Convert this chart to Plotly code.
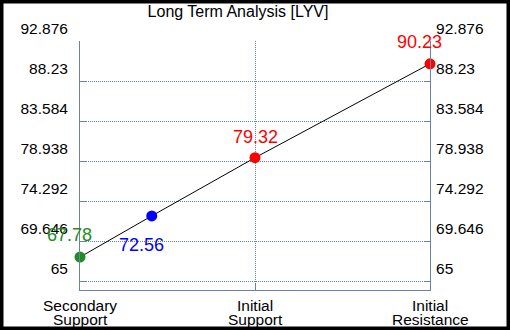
import plotly.graph_objects as go

# ---- data ----
categories = ["Secondary Support", "Initial Support", "Initial Resistance"]
category_x = [0, 1, 2]
point_x = [0, 0.41, 1, 2]
point_y = [67.78, 72.56, 79.32, 90.23]
point_labels = ["67.78", "72.56", "79.32", "90.23"]
point_colors = ["#228B22", "#0000FF", "#FF0000", "#FF0000"]
y_ticks = [65, 69.646, 74.292, 78.938, 83.584, 88.23, 92.876]
y_tick_text = ["65", "69.646", "74.292", "78.938", "83.584", "88.23", "92.876"]
title_text = "Long Term Analysis [LYV]"

# ---- styles ----
axis_col = "#6a82ab"
font_fam = "Liberation Sans, Arial, sans-serif"
label_offsets = [(-11, 22), (-10, -29), (0, 21), (-11, 22)]

W, H = 510, 330
ML, MR, MT, MB = 80, 80, 41, 40
y_range = [63.955, 92.876]

fig = go.Figure()
fig.add_trace(go.Scatter(
    x=point_x, y=point_y, mode="lines+markers",
    line=dict(color="black", width=1),
    marker=dict(color=point_colors, size=11, line=dict(width=0)),
    cliponaxis=False,
    showlegend=False, hoverinfo="skip",
))
# invisible trace for the right axis
fig.add_trace(go.Scatter(x=[point_x[0]], y=[point_y[0]], yaxis="y2",
                         mode="markers", marker=dict(opacity=0),
                         showlegend=False, hoverinfo="skip"))

annotations = []
for xv, yv, t, c, (dx, dy) in zip(point_x, point_y, point_labels, point_colors, label_offsets):
    annotations.append(dict(x=xv, y=yv, xref="x", yref="y", text=t, showarrow=False,
                            xshift=dx, yshift=dy,
                            font=dict(color=c, size=18, family=font_fam)))
for xv, cat in zip(category_x, categories):
    parts = cat.split(" ", 1)
    annotations.append(dict(x=xv, y=0, xref="x", yref="paper", text=parts[0], showarrow=False,
                            yanchor="middle", yshift=-15,
                            font=dict(color="black", size=15.5, family=font_fam)))
    annotations.append(dict(x=xv, y=0, xref="x", yref="paper", text=parts[1], showarrow=False,
                            yanchor="middle", yshift=-29,
                            font=dict(color="black", size=15.5, family=font_fam)))

pw = W - ML - MR
ph = H - MT - MB
border = dict(type="rect", xref="paper", yref="paper",
              x0=-ML / pw, x1=(W - ML) / pw, y0=-MB / ph, y1=(H - MB) / ph,
              line=dict(color="black", width=7), fillcolor="rgba(0,0,0,0)", layer="above")

common_y = dict(range=y_range, tickvals=y_ticks, ticktext=y_tick_text,
                showline=True, linecolor=axis_col, linewidth=1,
                ticks="inside", ticklen=6, tickcolor=axis_col,
                ticklabelshift=-12, zeroline=False,
                tickfont=dict(size=15.5, color="black", family=font_fam))

fig.update_layout(
    width=W, height=H,
    margin=dict(l=ML, r=MR, t=MT, b=MB, autoexpand=False),
    paper_bgcolor="white", plot_bgcolor="white",
    title=dict(text=title_text, x=238 / W, xanchor="center", xref="container",
               y=1 - 11 / H, yanchor="middle", yref="container",
               font=dict(size=16, color="black", family=font_fam)),
    xaxis=dict(range=[0, 2], tickvals=category_x, showticklabels=False,
               showgrid=True, gridcolor=axis_col, griddash="1px,1px", gridwidth=1,
               showline=True, linecolor=axis_col, linewidth=1,
               ticks="inside", ticklen=6, tickcolor=axis_col, zeroline=False),
    yaxis=dict(**common_y, side="left", showgrid=True, gridcolor=axis_col,
               griddash="1px,1px", gridwidth=1, ticklabelstandoff=8),
    yaxis2=dict(**common_y, side="right", overlaying="y", showgrid=False,
                ticklabelstandoff=2),
    annotations=annotations,
    shapes=[border],
)

fig.write_html("out.html", config={"displayModeBar": False, "staticPlot": True},
               post_script="document.body.style.margin='0';document.body.style.overflow='hidden';")
